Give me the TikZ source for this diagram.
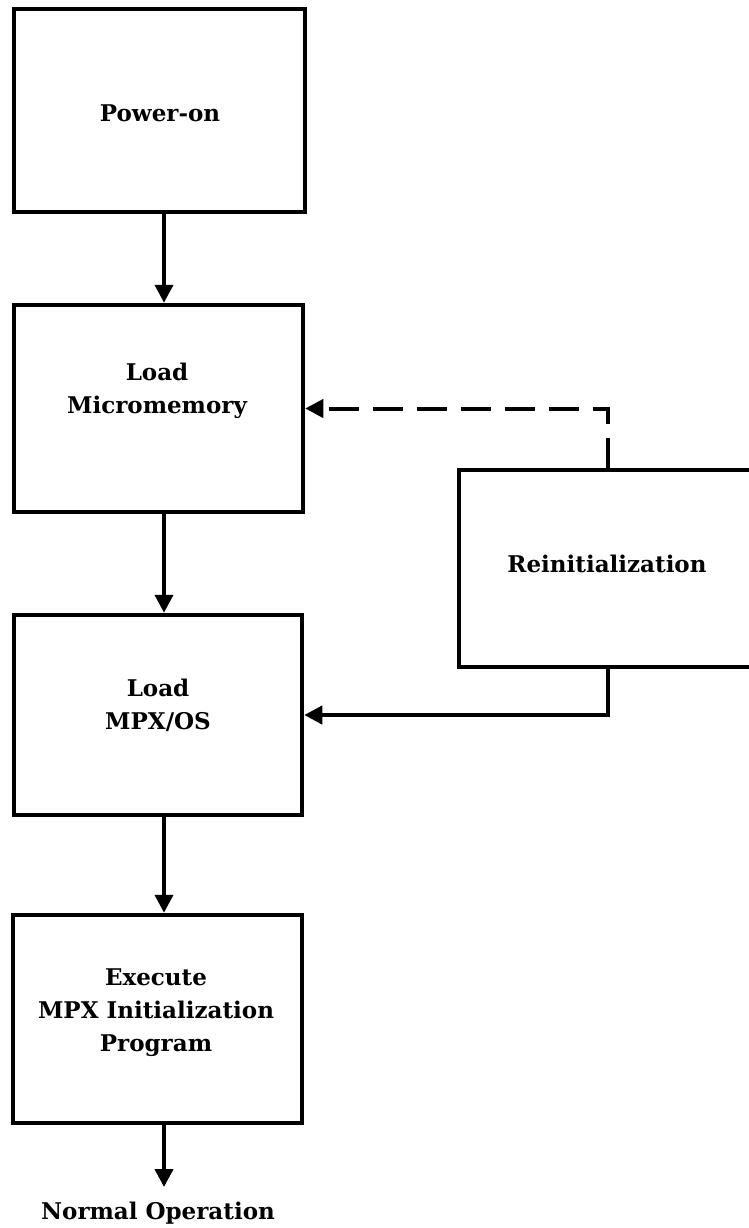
\documentclass[tikz,border=0pt]{standalone}
\usepackage{fontspec}
\setmainfont{DejaVu Serif}
\usetikzlibrary{arrows.meta}
\begin{document}
\begin{tikzpicture}[x=1pt,y=-1pt,
  box/.style={draw, line width=4.5pt, rectangle, inner sep=0pt},
  lbl/.style={font=\bfseries\fontsize{23}{33}\selectfont, align=center, inner sep=0pt},
  conn/.style={line width=4pt, -{Triangle[width=18pt,length=18pt]}},
  dashconn/.style={conn, dash pattern=on 30pt off 14pt},
]
\useasboundingbox (0,0) rectangle (748,1228);
\node[box, minimum width=291pt, minimum height=203pt] (pwr) at (159.5,110.5) {};
\node[box, minimum width=289pt, minimum height=207pt] (mm) at (158.5,408.5) {};
\node[box, minimum width=288pt, minimum height=200pt] (mpx) at (158,715) {};
\node[box, minimum width=289pt, minimum height=208pt] (exe) at (157.5,1019) {};
\node[box, minimum width=297pt, minimum height=197pt] (reinit) at (607.5,568.5) {};

\node[lbl] (tpwr) at (160,113) {Power-on};
\node[lbl] (tmm) at (157,391) {Load\\Micromemory};
\node[lbl] (tmpx) at (158,705) {Load\\MPX/OS};
\node[lbl] (texe) at (156,1013) {Execute\\MPX Initialization\\Program};
\node[lbl] (treinit) at (607,564) {Reinitialization};
\node[lbl] (tnorm) at (158,1213) {Normal Operation};

\coordinate (col) at (164,0);
\coordinate (out) at (164,1187);
\draw[conn] (pwr.south -| col) -- (mm.north -| col);
\draw[conn] (mm.south -| col) -- (mpx.north -| col);
\draw[conn] (mpx.south -| col) -- (exe.north -| col);
\draw[conn] (exe.south -| col) -- (out);
\draw[dashconn] (reinit.north) |- (mm.east);
\draw[conn] (reinit.south) |- (mpx.east);
\end{tikzpicture}
\end{document}
